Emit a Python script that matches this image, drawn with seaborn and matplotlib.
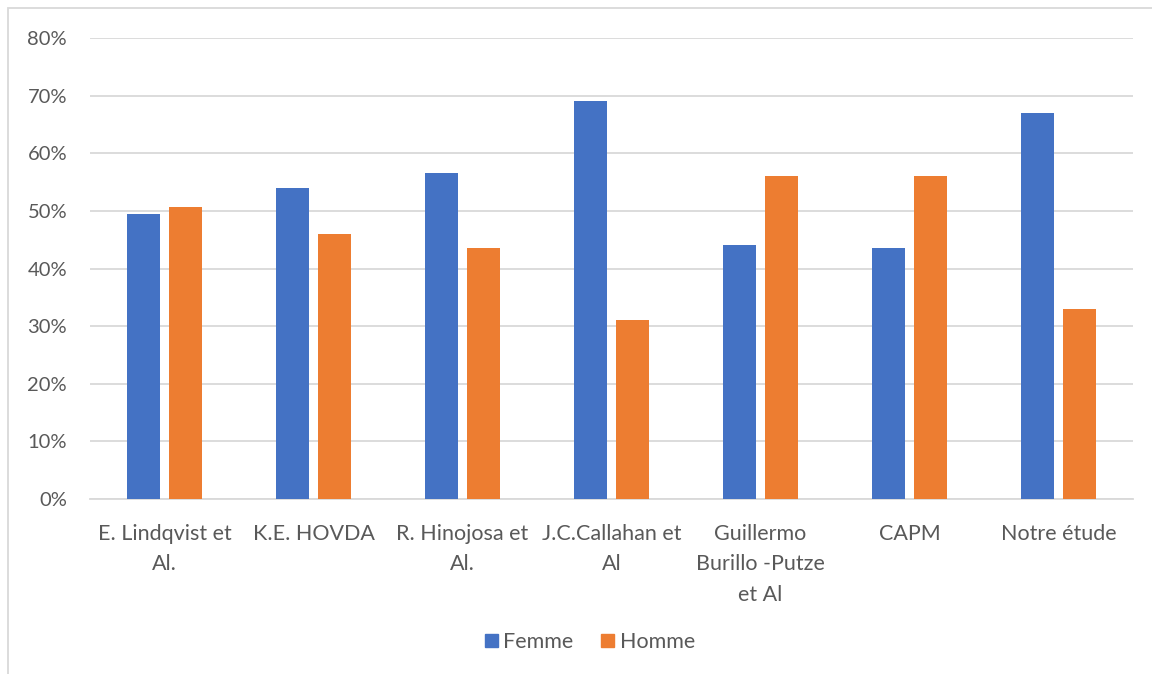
import matplotlib
matplotlib.use("Agg")
import matplotlib.pyplot as plt
import matplotlib.patches as mpatches
from matplotlib.ticker import PercentFormatter
import pandas as pd
import seaborn as sns

# Studies compared and share of women / men in each
studies = [
    "E. Lindqvist et\nAl.",
    "K.E. HOVDA",
    "R. Hinojosa et\nAl.",
    "J.C.Callahan et\nAl",
    "Guillermo\nBurillo -Putze\net Al",
    "CAPM",
    "Notre étude",
]
femme = [49.4, 54.0, 56.5, 69.0, 44.0, 43.5, 67.0]
homme = [50.6, 46.0, 43.5, 31.0, 56.0, 56.0, 33.0]
series = ["Femme", "Homme"]
colors = ["#4472C4", "#ED7D31"]

df = pd.DataFrame({
    "etude": studies * 2,
    "sexe": [series[0]] * len(studies) + [series[1]] * len(studies),
    "pct": femme + homme,
})

sns.set_theme(style="white")
plt.rcParams["font.family"] = ["Lato", "DejaVu Sans"]

fig = plt.figure(figsize=(11.52, 6.74), dpi=100)
ax = fig.add_axes([90 / 1152, 1 - 499 / 674, 1043 / 1152, 461 / 674])

sns.barplot(
    data=df, x="etude", y="pct", hue="sexe", palette=colors,
    width=0.573, gap=0.22, ax=ax, legend=False, saturation=1,
    edgecolor="none", zorder=3,
)

ax.set_ylim(0, 80)
ax.set_xlim(-0.5, len(studies) - 0.5)
ax.set_yticks(range(0, 81, 10))
ax.yaxis.set_major_formatter(PercentFormatter(decimals=0))
ax.grid(axis="y", color="#d9d9d9", linewidth=1.3, zorder=0)
ax.set_axisbelow(True)
for s in ["top", "right", "left"]:
    ax.spines[s].set_visible(False)
ax.spines["bottom"].set_color("#d9d9d9")
ax.spines["bottom"].set_linewidth(1.3)
ax.set_xlabel("")
ax.set_ylabel("")
ax.tick_params(axis="both", length=0, colors="#595959")
ax.tick_params(axis="x", pad=18, labelsize=15.5)
ax.tick_params(axis="y", pad=16.5, labelsize=14.5)
for lbl in ax.get_xticklabels():
    lbl.set_linespacing(1.65)

handles = [mpatches.Patch(color=c, label=s) for c, s in zip(colors, series)]
fig.legend(
    handles=handles, loc="center", bbox_to_anchor=(590 / 1152, 1 - 642 / 674),
    ncol=2, frameon=False, fontsize=15.5, handlelength=0.6, handleheight=0.6,
    handletextpad=0.25, columnspacing=1.3, labelcolor="#595959",
)

# chart frame
fig.patches.append(mpatches.Rectangle(
    (8 / 1152, -0.05), 1.1, 1.0 - 8 / 674 + 0.05,
    transform=fig.transFigure, fill=False, edgecolor="#d9d9d9", linewidth=1.3,
))

fig.savefig("out.png", dpi=100)
